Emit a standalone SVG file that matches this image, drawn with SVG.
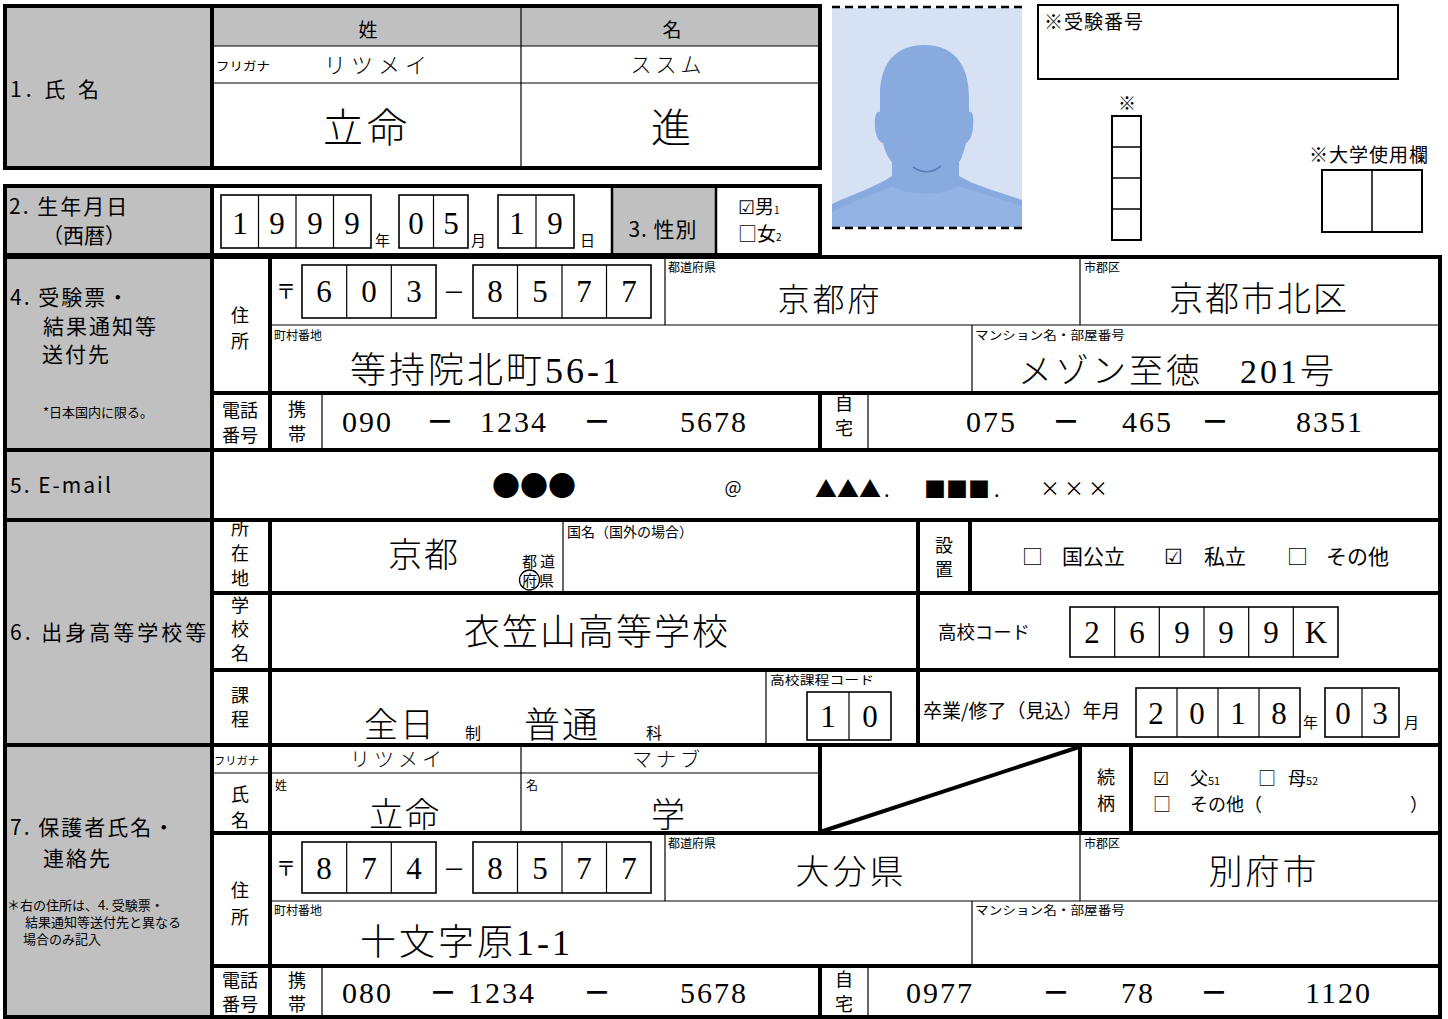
<svg xmlns="http://www.w3.org/2000/svg" width="1448" height="1019" viewBox="0 0 1448 1019">
<style>
.tk{fill:none;stroke:#000;stroke-width:4}
.md{fill:none;stroke:#000;stroke-width:2.5}
.tn{fill:none;stroke:#000;stroke-width:1.2}
.g{fill:#c0c0c0}
.box{fill:#fff;stroke:#000;stroke-width:1.6}
text{font-family:"Noto Sans CJK JP","Liberation Sans",sans-serif;fill:#000}
.l{font-size:21px;letter-spacing:2px}
.s{font-size:12px}
.v{font-family:"Liberation Serif","Noto Sans CJK JP",serif;font-weight:300}
.d{font-family:"Liberation Serif",serif;font-size:31px;text-anchor:middle}
.ph{font-family:"Liberation Serif",serif;font-size:30px;letter-spacing:2px}
.dash{font-size:28px;font-weight:bold;text-anchor:middle}
.c{text-anchor:middle}
.vl{font-size:18px;text-anchor:middle}
</style>
<rect x="0" y="0" width="1448" height="1019" fill="#fff"/>

<g id="sec1-name">
<rect class="g" x="5" y="6" width="207" height="162"/>
<rect class="g" x="212" y="6" width="608" height="40"/>
<line class="tn" x1="212" y1="46" x2="820" y2="46"/>
<line class="tn" x1="212" y1="83" x2="820" y2="83"/>
<line class="tn" x1="521" y1="6" x2="521" y2="168"/>
<line class="tk" x1="212" y1="6" x2="212" y2="168" stroke-width="3"/>
<rect class="tk" x="5" y="6" width="815" height="162" stroke-width="5"/>
<text class="l" x="10" y="97" style="letter-spacing:4px">1. 氏 名</text>
<text class="c" x="368" y="37" font-size="19">姓</text>
<text class="c" x="672" y="37" font-size="19">名</text>
<text x="216" y="71" font-size="12" textLength="54" lengthAdjust="spacingAndGlyphs">フリガナ</text>
<text class="v c" x="378" y="73" font-size="22" letter-spacing="5">リツメイ</text>
<text class="v c" x="668" y="72" font-size="21" letter-spacing="4">ススム</text>
<text class="v c" x="367" y="142" font-size="40" letter-spacing="4">立命</text>
<text class="v c" x="671" y="142" font-size="40">進</text>
</g>

<g id="sec2-birth">
<rect class="g" x="5" y="186" width="207" height="69"/>
<rect class="g" x="612" y="186" width="104" height="69"/>
<line class="tk" x1="212" y1="186" x2="212" y2="255" stroke-width="3"/>
<line class="md" x1="612" y1="186" x2="612" y2="255" stroke-width="2"/>
<line class="md" x1="716" y1="186" x2="716" y2="255" stroke-width="2"/>
<rect class="tk" x="5" y="186" width="815" height="69" stroke-width="5"/>
<text class="l" x="9" y="214">2. 生年月日</text>
<text class="l" x="42" y="243" style="letter-spacing:0">（西暦）</text>
<rect class="box" x="221" y="195" width="150" height="53"/>
<line class="tn" x1="258.5" y1="195" x2="258.5" y2="248"/>
<line class="tn" x1="296" y1="195" x2="296" y2="248"/>
<line class="tn" x1="333.5" y1="195" x2="333.5" y2="248"/>
<text class="d" x="240" y="234" font-size="34">1</text>
<text class="d" x="277" y="234" font-size="34">9</text>
<text class="d" x="315" y="234" font-size="34">9</text>
<text class="d" x="352" y="234" font-size="34">9</text>
<text x="375" y="246" font-size="15">年</text>
<rect class="box" x="399" y="195" width="69" height="53"/>
<line class="tn" x1="433.5" y1="195" x2="433.5" y2="248"/>
<text class="d" x="416" y="234" font-size="34">0</text>
<text class="d" x="451" y="234" font-size="34">5</text>
<text x="471" y="246" font-size="15">月</text>
<rect class="box" x="498" y="195" width="76" height="53"/>
<line class="tn" x1="536" y1="195" x2="536" y2="248"/>
<text class="d" x="517" y="234" font-size="34">1</text>
<text class="d" x="555" y="234" font-size="34">9</text>
<text x="580" y="246" font-size="15">日</text>
<text class="l c" x="663" y="237" style="letter-spacing:1px">3. 性別</text>
<text x="738" y="214" font-size="19">☑男<tspan font-size="10">1</tspan></text>
<text x="738" y="241" font-size="19">□女<tspan font-size="10">2</tspan></text>
</g>

<g id="photo">
<rect x="832" y="8" width="190" height="219" fill="#d6e1f4"/>
<path d="M832,204 C855,193 878,186 892,176 L892,162 C888,158 885,152 883,143 C879,142 876,137 875,128 C874,118 876,110 880,112 L880,98 C879,62 897,45 924,45 C952,45 969,62 969,98 L969,112 C973,110 974,118 973,128 C972,138 968,142 966,143 C963,155 961,160 959,162 L959,176 C975,186 1000,192 1022,200 L1022,227 L832,227 Z" fill="#88aade"/>
<path d="M832,212 C855,200 880,192 893,186 C905,196 945,196 958,186 C975,192 1000,198 1022,206 L1022,227 L832,227 Z" fill="#93b3e4"/>
<path d="M913,167 Q927,177 941,166" fill="none" stroke="#5b7cbb" stroke-width="1.6"/>
<line x1="832" y1="7" x2="1022" y2="7" stroke="#000" stroke-width="2.5" stroke-dasharray="8,5"/>
<line x1="832" y1="228" x2="1022" y2="228" stroke="#000" stroke-width="2.5" stroke-dasharray="8,5"/>
</g>

<g id="exam-number">
<rect x="1038" y="5" width="360" height="74" fill="#fff" stroke="#000" stroke-width="2"/>
<text x="1044" y="29" font-size="19" letter-spacing="1">※受験番号</text>
<text class="c" x="1127" y="110" font-size="18">※</text>
<rect x="1112" y="116" width="29" height="124" fill="#fff" stroke="#000" stroke-width="2"/>
<line x1="1112" y1="147" x2="1141" y2="147" stroke="#000" stroke-width="1.5"/>
<line x1="1112" y1="178" x2="1141" y2="178" stroke="#000" stroke-width="1.5"/>
<line x1="1112" y1="209" x2="1141" y2="209" stroke="#000" stroke-width="1.5"/>
<text class="c" x="1369" y="162" font-size="19" letter-spacing="1">※大学使用欄</text>
<rect x="1322" y="170" width="100" height="62" fill="#fff" stroke="#000" stroke-width="2"/>
<line x1="1372" y1="170" x2="1372" y2="232" stroke="#000" stroke-width="1.5"/>
</g>

<g id="connectors">
<rect class="g" x="5" y="257" width="207" height="760"/>
<line class="tn" x1="270" y1="325" x2="1440" y2="325"/>
<line class="tn" x1="665" y1="257" x2="665" y2="325"/>
<line class="tn" x1="1080" y1="257" x2="1080" y2="325"/>
<line class="tn" x1="972" y1="325" x2="972" y2="393"/>
<line class="tn" x1="322" y1="393" x2="322" y2="450"/>
<line class="tn" x1="868" y1="393" x2="868" y2="450"/>
<line class="tn" x1="563" y1="520" x2="563" y2="593"/>
<line class="tn" x1="766" y1="670" x2="766" y2="745"/>
<line class="tn" x1="212" y1="773" x2="820" y2="773"/>
<line class="tn" x1="521" y1="745" x2="521" y2="833"/>
<line class="tn" x1="665" y1="833" x2="665" y2="901"/>
<line class="tn" x1="1080" y1="833" x2="1080" y2="901"/>
<line class="tn" x1="270" y1="901" x2="1440" y2="901"/>
<line class="tn" x1="972" y1="901" x2="972" y2="966"/>
<line class="tn" x1="322" y1="966" x2="322" y2="1017"/>
<line class="tn" x1="868" y1="966" x2="868" y2="1017"/>
<line class="tk" x1="212" y1="257" x2="212" y2="1017"/>
<line class="tk" x1="270" y1="257" x2="270" y2="450" stroke-width="3"/>
<line class="tk" x1="270" y1="520" x2="270" y2="1017" stroke-width="3"/>
<line class="tk" x1="5" y1="450" x2="1440" y2="450"/>
<line class="tk" x1="5" y1="520" x2="1440" y2="520"/>
<line class="tk" x1="5" y1="745" x2="1440" y2="745"/>
<line class="tk" x1="212" y1="393" x2="1440" y2="393"/>
<line class="tk" x1="212" y1="593" x2="1440" y2="593"/>
<line class="tk" x1="212" y1="670" x2="1440" y2="670"/>
<line class="tk" x1="212" y1="833" x2="1440" y2="833"/>
<line class="tk" x1="212" y1="966" x2="1440" y2="966"/>
<line class="tk" x1="820" y1="393" x2="820" y2="450"/>
<line class="tk" x1="820" y1="745" x2="820" y2="833"/>
<line class="tk" x1="820" y1="966" x2="820" y2="1017"/>
<line class="tk" x1="918" y1="520" x2="918" y2="745"/>
<line class="tk" x1="970" y1="520" x2="970" y2="593" stroke-width="3"/>
<line class="tk" x1="1080" y1="745" x2="1080" y2="833" stroke-width="3.5"/>
<line class="tk" x1="1131" y1="745" x2="1131" y2="833" stroke-width="3.5"/>
<line class="tk" x1="820" y1="832" x2="1079" y2="747" stroke-width="3"/>
<rect class="tk" x="5" y="257" width="1435" height="760" stroke-width="4.5"/>
</g>

<g id="sec4-address">
<text class="l" x="10" y="305">4. 受験票・</text>
<text class="l" x="43" y="334">結果通知等</text>
<text class="l" x="42" y="362">送付先</text>
<text x="43" y="417" font-size="13">*日本国内に限る。</text>
<text class="vl" x="240" y="322" font-size="20">住</text>
<text class="vl" x="240" y="348" font-size="20">所</text>
<text class="c" x="286" y="299" font-size="20">〒</text>
<rect class="box" x="302" y="265" width="134" height="53"/>
<line class="tn" x1="346.7" y1="265" x2="346.7" y2="318"/>
<line class="tn" x1="391.3" y1="265" x2="391.3" y2="318"/>
<text class="d" x="324" y="302">6</text>
<text class="d" x="369" y="302">0</text>
<text class="d" x="414" y="302">3</text>
<text class="c" x="454" y="300" font-size="22">－</text>
<rect class="box" x="473" y="265" width="178" height="53"/>
<line class="tn" x1="517.5" y1="265" x2="517.5" y2="318"/>
<line class="tn" x1="562" y1="265" x2="562" y2="318"/>
<line class="tn" x1="606.5" y1="265" x2="606.5" y2="318"/>
<text class="d" x="495" y="302">8</text>
<text class="d" x="540" y="302">5</text>
<text class="d" x="584" y="302">7</text>
<text class="d" x="629" y="302">7</text>
<text class="s" x="668" y="272">都道府県</text>
<text class="v c" x="830" y="311" font-size="32" letter-spacing="3">京都府</text>
<text class="s" x="1084" y="272">市郡区</text>
<text class="v c" x="1259" y="311" font-size="34" letter-spacing="2">京都市北区</text>
<text class="s" x="274" y="340">町村番地</text>
<text class="v" x="350" y="383" font-size="36" letter-spacing="3">等持院北町56-1</text>
<text class="s" x="975" y="340" textLength="150" lengthAdjust="spacingAndGlyphs">マンション名・部屋番号</text>
<text class="v" x="1018" y="383" font-size="34" letter-spacing="3">メゾン至徳　201号</text>
<text class="vl" x="240" y="417" font-size="19">電話</text>
<text class="vl" x="240" y="442" font-size="19">番号</text>
<text class="vl" x="297" y="416" font-size="19">携</text>
<text class="vl" x="297" y="441" font-size="19">帯</text>
<text class="ph" x="342" y="432">090</text>
<text class="dash" x="440" y="432">－</text>
<text class="ph" x="480" y="432">1234</text>
<text class="dash" x="597" y="432">－</text>
<text class="ph" x="680" y="432">5678</text>
<text class="vl" x="844" y="410" font-size="17">自</text>
<text class="vl" x="844" y="435" font-size="17">宅</text>
<text class="ph" x="966" y="432">075</text>
<text class="dash" x="1066" y="432">－</text>
<text class="ph" x="1122" y="432">465</text>
<text class="dash" x="1215" y="432">－</text>
<text class="ph" x="1296" y="432">8351</text>
</g>

<g id="sec5-email">
<text class="l" x="10" y="493">5. E-mail</text>
<text class="c" x="534" y="497" font-size="28">●●●</text>
<text class="c" x="733" y="494" font-size="18">@</text>
<text x="815" y="497" font-size="22">▲▲▲</text>
<text x="884" y="497" font-size="20">.</text>
<text x="924" y="497" font-size="22">■■■</text>
<text x="994" y="497" font-size="20">.</text>
<text x="1040" y="496" font-size="20" letter-spacing="4">×××</text>
</g>

<g id="sec6-school">
<text class="l" x="10" y="640" style="letter-spacing:3px">6. 出身高等学校等</text>
<text class="vl" x="240" y="535">所</text>
<text class="vl" x="240" y="560">在</text>
<text class="vl" x="240" y="585">地</text>
<text class="v" x="388" y="567" font-size="34" letter-spacing="2">京都</text>
<text x="522" y="567" font-size="15">都</text>
<text x="540" y="567" font-size="15">道</text>
<text x="522" y="586" font-size="15">府</text>
<text x="539" y="586" font-size="15">県</text>
<circle cx="529.5" cy="580" r="10" fill="none" stroke="#000" stroke-width="1.3"/>
<text x="567" y="537" font-size="14">国名（国外の場合）</text>
<text class="vl" x="944" y="552" font-size="19">設</text>
<text class="vl" x="944" y="576" font-size="19">置</text>
<text x="1022" y="564" font-size="21">□</text>
<text x="1062" y="564" font-size="21">国公立</text>
<text x="1164" y="564" font-size="21">☑</text>
<text x="1204" y="564" font-size="21">私立</text>
<text x="1287" y="564" font-size="21">□</text>
<text x="1326" y="564" font-size="21">その他</text>
<text class="vl" x="240" y="612">学</text>
<text class="vl" x="240" y="636">校</text>
<text class="vl" x="240" y="660">名</text>
<text class="v c" x="597" y="645" font-size="36" letter-spacing="2">衣笠山高等学校</text>
<text x="938" y="639" font-size="18" textLength="92" lengthAdjust="spacingAndGlyphs">高校コード</text>
<rect class="box" x="1070" y="607" width="268" height="50"/>
<line class="tn" x1="1114.7" y1="607" x2="1114.7" y2="657"/>
<line class="tn" x1="1159.3" y1="607" x2="1159.3" y2="657"/>
<line class="tn" x1="1204" y1="607" x2="1204" y2="657"/>
<line class="tn" x1="1248.7" y1="607" x2="1248.7" y2="657"/>
<line class="tn" x1="1293.3" y1="607" x2="1293.3" y2="657"/>
<text class="d" x="1092" y="643">2</text>
<text class="d" x="1137" y="643">6</text>
<text class="d" x="1182" y="643">9</text>
<text class="d" x="1226" y="643">9</text>
<text class="d" x="1271" y="643">9</text>
<text class="d" x="1316" y="643">K</text>
<text class="vl" x="240" y="702" font-size="19">課</text>
<text class="vl" x="240" y="726" font-size="19">程</text>
<text class="v" x="364" y="737" font-size="34" letter-spacing="2">全日</text>
<text x="465" y="739" font-size="16">制</text>
<text class="v" x="524" y="738" font-size="36" letter-spacing="2">普通</text>
<text x="646" y="739" font-size="16">科</text>
<text x="770" y="685" font-size="12" textLength="104" lengthAdjust="spacingAndGlyphs">高校課程コード</text>
<rect class="box" x="807" y="692" width="84" height="48"/>
<line class="tn" x1="849" y1="692" x2="849" y2="740"/>
<text class="d" x="828" y="727">1</text>
<text class="d" x="870" y="727">0</text>
<text x="923" y="718" font-size="19">卒業/修了（見込）年月</text>
<rect class="box" x="1136" y="688" width="164" height="49"/>
<line class="tn" x1="1177" y1="688" x2="1177" y2="737"/>
<line class="tn" x1="1218" y1="688" x2="1218" y2="737"/>
<line class="tn" x1="1259" y1="688" x2="1259" y2="737"/>
<text class="d" x="1156" y="724">2</text>
<text class="d" x="1197" y="724">0</text>
<text class="d" x="1238" y="724">1</text>
<text class="d" x="1279" y="724">8</text>
<text x="1303" y="728" font-size="15">年</text>
<rect class="box" x="1325" y="688" width="74" height="49"/>
<line class="tn" x1="1362" y1="688" x2="1362" y2="737"/>
<text class="d" x="1343" y="724">0</text>
<text class="d" x="1380" y="724">3</text>
<text x="1404" y="728" font-size="15">月</text>
</g>

<g id="sec7-guardian">
<text class="l" x="10" y="835">7. 保護者氏名・</text>
<text class="l" x="43" y="866">連絡先</text>
<text x="7" y="910" font-size="13">＊右の住所は、4. 受験票・</text>
<text x="25" y="927" font-size="13">結果通知等送付先と異なる</text>
<text x="23" y="944" font-size="13">場合のみ記入</text>
<text x="214" y="765" font-size="11" textLength="45" lengthAdjust="spacingAndGlyphs">フリガナ</text>
<text class="v c" x="398" y="767" font-size="20" letter-spacing="4">リツメイ</text>
<text class="v c" x="668" y="767" font-size="20" letter-spacing="4">マナブ</text>
<text class="vl" x="240" y="801" font-size="20">氏</text>
<text class="vl" x="240" y="827" font-size="20">名</text>
<text class="s" x="275" y="790">姓</text>
<text class="s" x="526" y="790">名</text>
<text class="v c" x="405" y="827" font-size="34" letter-spacing="2">立命</text>
<text class="v c" x="668" y="827" font-size="34">学</text>
<text class="vl" x="1106" y="784" font-size="19">続</text>
<text class="vl" x="1106" y="810" font-size="19">柄</text>
<text x="1153" y="785" font-size="18">☑</text>
<text x="1190" y="785" font-size="18">父<tspan font-size="11">51</tspan></text>
<text x="1258" y="785" font-size="18">□</text>
<text x="1288" y="785" font-size="18">母<tspan font-size="11">52</tspan></text>
<text x="1153" y="811" font-size="18">□</text>
<text x="1190" y="811" font-size="18">その他（</text>
<text x="1410" y="811" font-size="18">）</text>
<text class="vl" x="240" y="897" font-size="20">住</text>
<text class="vl" x="240" y="924" font-size="20">所</text>
<text class="c" x="286" y="876" font-size="20">〒</text>
<rect class="box" x="302" y="842" width="134" height="51"/>
<line class="tn" x1="346.7" y1="842" x2="346.7" y2="893"/>
<line class="tn" x1="391.3" y1="842" x2="391.3" y2="893"/>
<text class="d" x="324" y="879">8</text>
<text class="d" x="369" y="879">7</text>
<text class="d" x="414" y="879">4</text>
<text class="c" x="454" y="877" font-size="22">－</text>
<rect class="box" x="473" y="842" width="178" height="51"/>
<line class="tn" x1="517.5" y1="842" x2="517.5" y2="893"/>
<line class="tn" x1="562" y1="842" x2="562" y2="893"/>
<line class="tn" x1="606.5" y1="842" x2="606.5" y2="893"/>
<text class="d" x="495" y="879">8</text>
<text class="d" x="540" y="879">5</text>
<text class="d" x="584" y="879">7</text>
<text class="d" x="629" y="879">7</text>
<text class="s" x="668" y="848">都道府県</text>
<text class="v c" x="851" y="884" font-size="34" letter-spacing="3">大分県</text>
<text class="s" x="1084" y="848">市郡区</text>
<text class="v c" x="1264" y="884" font-size="34" letter-spacing="3">別府市</text>
<text class="s" x="274" y="915">町村番地</text>
<text class="v" x="360" y="955" font-size="36" letter-spacing="3">十文字原1-1</text>
<text class="s" x="975" y="915" textLength="150" lengthAdjust="spacingAndGlyphs">マンション名・部屋番号</text>
<text class="vl" x="240" y="987" font-size="19">電話</text>
<text class="vl" x="240" y="1011" font-size="19">番号</text>
<text class="vl" x="297" y="987" font-size="19">携</text>
<text class="vl" x="297" y="1011" font-size="19">帯</text>
<text class="ph" x="342" y="1003">080</text>
<text class="dash" x="443" y="1003">－</text>
<text class="ph" x="468" y="1003">1234</text>
<text class="dash" x="597" y="1003">－</text>
<text class="ph" x="680" y="1003">5678</text>
<text class="vl" x="844" y="986" font-size="17">自</text>
<text class="vl" x="844" y="1011" font-size="17">宅</text>
<text class="ph" x="906" y="1003">0977</text>
<text class="dash" x="1056" y="1003">－</text>
<text class="ph" x="1121" y="1003">78</text>
<text class="dash" x="1214" y="1003">－</text>
<text class="ph" x="1305" y="1003">1120</text>
</g>
</svg>
